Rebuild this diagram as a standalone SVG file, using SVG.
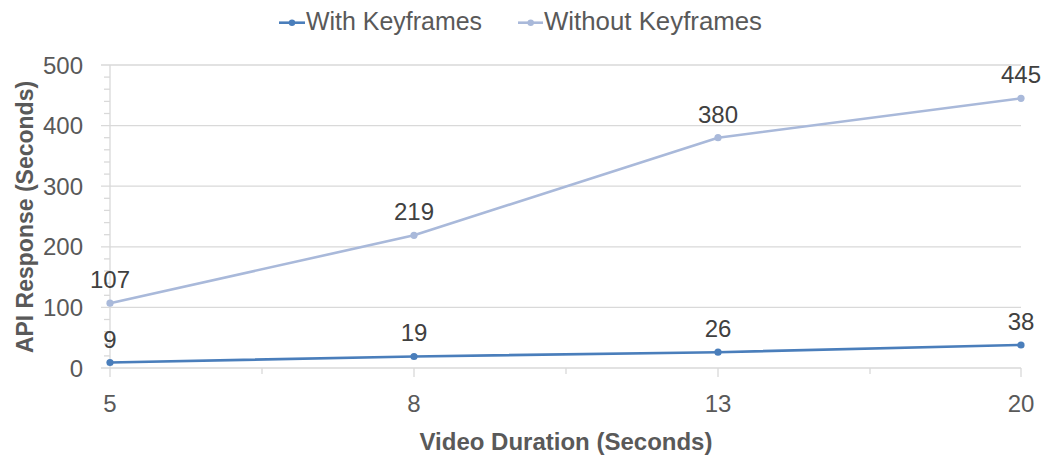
<svg xmlns="http://www.w3.org/2000/svg" width="1046" height="458" viewBox="0 0 1046 458">
<style>
.grid{stroke:#d9d9d9;stroke-width:1.3;fill:none}
.tick{stroke:#d9d9d9;stroke-width:1.3}
.tl{font-family:"Liberation Sans",Arial,sans-serif;font-size:24px;fill:#595959}
.lg{font-family:"Liberation Sans",Arial,sans-serif;font-size:25px;fill:#595959}
.dl{font-family:"Liberation Sans",Arial,sans-serif;font-size:24px;fill:#404040;text-anchor:middle}
.title{font-family:"Liberation Sans",Arial,sans-serif;font-weight:bold;fill:#595959;text-anchor:middle}
.with{stroke:#4a7ebb;stroke-width:2.6;fill:none;stroke-linejoin:round}
.without{stroke:#a9b9da;stroke-width:2.6;fill:none;stroke-linejoin:round}
</style>
<rect width="1046" height="458" fill="#ffffff"/>
<g id="axes">
<g class="grid">
<line x1="101" y1="65" x2="1021" y2="65"/>
<line x1="101" y1="125.6" x2="1021" y2="125.6"/>
<line x1="101" y1="186.2" x2="1021" y2="186.2"/>
<line x1="101" y1="246.8" x2="1021" y2="246.8"/>
<line x1="101" y1="307.4" x2="1021" y2="307.4"/>
<line x1="101" y1="368" x2="1021" y2="368"/>
<line x1="110" y1="65" x2="110" y2="368"/>
</g>
<g class="tick">
<line x1="104" y1="77.1" x2="110" y2="77.1"/><line x1="104" y1="89.2" x2="110" y2="89.2"/><line x1="104" y1="101.4" x2="110" y2="101.4"/><line x1="104" y1="113.5" x2="110" y2="113.5"/>
<line x1="104" y1="137.7" x2="110" y2="137.7"/><line x1="104" y1="149.8" x2="110" y2="149.8"/><line x1="104" y1="162" x2="110" y2="162"/><line x1="104" y1="174.1" x2="110" y2="174.1"/>
<line x1="104" y1="198.3" x2="110" y2="198.3"/><line x1="104" y1="210.4" x2="110" y2="210.4"/><line x1="104" y1="222.6" x2="110" y2="222.6"/><line x1="104" y1="234.7" x2="110" y2="234.7"/>
<line x1="104" y1="258.9" x2="110" y2="258.9"/><line x1="104" y1="271" x2="110" y2="271"/><line x1="104" y1="283.2" x2="110" y2="283.2"/><line x1="104" y1="295.3" x2="110" y2="295.3"/>
<line x1="104" y1="319.5" x2="110" y2="319.5"/><line x1="104" y1="331.6" x2="110" y2="331.6"/><line x1="104" y1="343.8" x2="110" y2="343.8"/><line x1="104" y1="355.9" x2="110" y2="355.9"/>
<line x1="110" y1="368" x2="110" y2="377"/><line x1="414" y1="368" x2="414" y2="377"/><line x1="718" y1="368" x2="718" y2="377"/><line x1="1021" y1="368" x2="1021" y2="377"/>
<line x1="262" y1="368" x2="262" y2="374"/><line x1="566" y1="368" x2="566" y2="374"/><line x1="870" y1="368" x2="870" y2="374"/>
</g>
<g class="tl" text-anchor="end">
<text x="83" y="73.5">500</text>
<text x="83" y="134">400</text>
<text x="83" y="194.7">300</text>
<text x="83" y="255.3">200</text>
<text x="83" y="315.9">100</text>
<text x="83" y="376.5">0</text>
</g>
<g class="tl" text-anchor="middle">
<text x="110" y="412">5</text>
<text x="414" y="412">8</text>
<text x="718" y="412">13</text>
<text x="1021" y="412">20</text>
</g>
<text class="title" x="566" y="450" font-size="24">Video Duration (Seconds)</text>
<text class="title" font-size="23" transform="translate(33,217) rotate(-90)">API Response (Seconds)</text>
</g>
<g id="connectors">
<polyline id="series-without" class="without" points="110,303.2 414,235.3 718,137.7 1021,98.3"/>
<polyline id="series-with" class="with" points="110,362.5 414,356.5 718,352.2 1021,345"/>
</g>
<g id="node-without-5"><circle cx="110" cy="303.2" r="3.6" fill="#a9b9da"/><text class="dl" x="110" y="288">107</text></g>
<g id="node-without-8"><circle cx="414" cy="235.3" r="3.6" fill="#a9b9da"/><text class="dl" x="414" y="220">219</text></g>
<g id="node-without-13"><circle cx="718" cy="137.7" r="3.6" fill="#a9b9da"/><text class="dl" x="718" y="123">380</text></g>
<g id="node-without-20"><circle cx="1021" cy="98.3" r="3.6" fill="#a9b9da"/><text class="dl" x="1021" y="83">445</text></g>
<g id="node-with-5"><circle cx="110" cy="362.5" r="3.6" fill="#4a7ebb"/><text class="dl" x="110" y="348">9</text></g>
<g id="node-with-8"><circle cx="414" cy="356.5" r="3.6" fill="#4a7ebb"/><text class="dl" x="414" y="341">19</text></g>
<g id="node-with-13"><circle cx="718" cy="352.2" r="3.6" fill="#4a7ebb"/><text class="dl" x="718" y="337">26</text></g>
<g id="node-with-20"><circle cx="1021" cy="345" r="3.6" fill="#4a7ebb"/><text class="dl" x="1021" y="330">38</text></g>
<g id="legend">
<line x1="279" y1="22.7" x2="305" y2="22.7" class="with"/><circle cx="292" cy="22.7" r="3.2" fill="#4a7ebb"/>
<text class="lg" x="306" y="30" textLength="176" lengthAdjust="spacingAndGlyphs">With Keyframes</text>
<line x1="518" y1="22.7" x2="543" y2="22.7" class="without"/><circle cx="530.7" cy="22.7" r="3.2" fill="#a9b9da"/>
<text class="lg" x="544" y="30" textLength="218" lengthAdjust="spacingAndGlyphs">Without Keyframes</text>
</g>
</svg>
